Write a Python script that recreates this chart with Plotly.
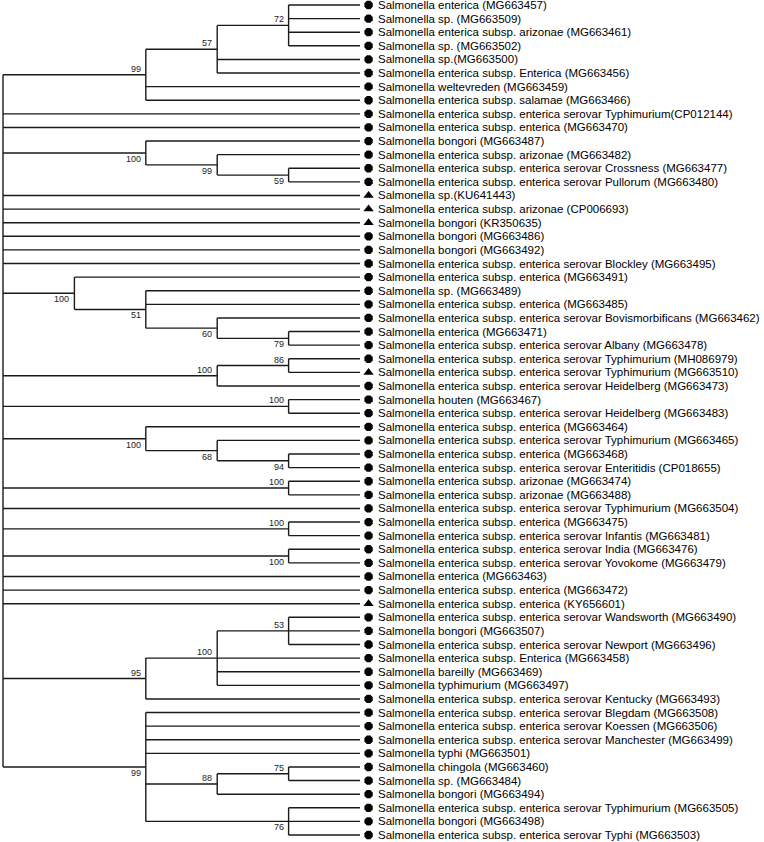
import plotly.graph_objects as go

# leaf names, top to bottom
leaves = [
    "Salmonella enterica (MG663457)",
    "Salmonella sp. (MG663509)",
    "Salmonella enterica subsp. arizonae (MG663461)",
    "Salmonella sp. (MG663502)",
    "Salmonella sp.(MG663500)",
    "Salmonella enterica subsp. Enterica (MG663456)",
    "Salmonella weltevreden (MG663459)",
    "Salmonella enterica subsp. salamae (MG663466)",
    "Salmonella enterica subsp. enterica serovar Typhimurium(CP012144)",
    "Salmonella enterica subsp. enterica (MG663470)",
    "Salmonella bongori (MG663487)",
    "Salmonella enterica subsp. arizonae (MG663482)",
    "Salmonella enterica subsp. enterica serovar Crossness (MG663477)",
    "Salmonella enterica subsp. enterica serovar Pullorum (MG663480)",
    "Salmonella sp.(KU641443)",
    "Salmonella enterica subsp. arizonae (CP006693)",
    "Salmonella bongori (KR350635)",
    "Salmonella bongori (MG663486)",
    "Salmonella bongori (MG663492)",
    "Salmonella enterica subsp. enterica serovar Blockley (MG663495)",
    "Salmonella enterica subsp. enterica (MG663491)",
    "Salmonella sp. (MG663489)",
    "Salmonella enterica subsp. enterica (MG663485)",
    "Salmonella enterica subsp. enterica serovar Bovismorbificans (MG663462)",
    "Salmonella enterica (MG663471)",
    "Salmonella enterica subsp. enterica serovar Albany (MG663478)",
    "Salmonella enterica subsp. enterica serovar Typhimurium (MH086979)",
    "Salmonella enterica subsp. enterica serovar Typhimurium (MG663510)",
    "Salmonella enterica subsp. enterica serovar Heidelberg (MG663473)",
    "Salmonella houten (MG663467)",
    "Salmonella enterica subsp. enterica serovar Heidelberg (MG663483)",
    "Salmonella enterica subsp. enterica (MG663464)",
    "Salmonella enterica subsp. enterica serovar Typhimurium (MG663465)",
    "Salmonella enterica subsp. enterica (MG663468)",
    "Salmonella enterica subsp. enterica serovar Enteritidis (CP018655)",
    "Salmonella enterica subsp. arizonae (MG663474)",
    "Salmonella enterica subsp. arizonae (MG663488)",
    "Salmonella enterica subsp. enterica serovar Typhimurium (MG663504)",
    "Salmonella enterica subsp. enterica (MG663475)",
    "Salmonella enterica subsp. enterica serovar Infantis (MG663481)",
    "Salmonella enterica subsp. enterica serovar India (MG663476)",
    "Salmonella enterica subsp. enterica serovar Yovokome (MG663479)",
    "Salmonella enterica (MG663463)",
    "Salmonella enterica subsp. enterica (MG663472)",
    "Salmonella enterica subsp. enterica (KY656601)",
    "Salmonella enterica subsp. enterica serovar Wandsworth (MG663490)",
    "Salmonella bongori (MG663507)",
    "Salmonella enterica subsp. enterica serovar Newport (MG663496)",
    "Salmonella enterica subsp. Enterica (MG663458)",
    "Salmonella bareilly (MG663469)",
    "Salmonella typhimurium (MG663497)",
    "Salmonella enterica subsp. enterica serovar Kentucky (MG663493)",
    "Salmonella enterica subsp. enterica serovar Blegdam (MG663508)",
    "Salmonella enterica subsp. enterica serovar Koessen (MG663506)",
    "Salmonella enterica subsp. enterica serovar Manchester (MG663499)",
    "Salmonella typhi (MG663501)",
    "Salmonella chingola (MG663460)",
    "Salmonella sp. (MG663484)",
    "Salmonella bongori (MG663494)",
    "Salmonella enterica subsp. enterica serovar Typhimurium (MG663505)",
    "Salmonella bongori (MG663498)",
    "Salmonella enterica subsp. enterica serovar Typhi (MG663503)",
]

# leaves drawn with a triangle instead of a dot
triangle_leaves = [14, 15, 16, 27, 44]

# topology with bootstrap values (leaf numbers refer to the list above)
newick = (
    "((((0,1,2,3)72,4,5)57,6,7)99,8,9,(10,(11,(12,13)59)99)100,"
    "14,15,16,17,18,19,(20,(21,22,(23,(24,25)79)60)51)100,"
    "((26,27)86,28)100,(29,30)100,(31,(32,(33,34)94)68)100,"
    "(35,36)100,37,(38,39)100,(40,41)100,42,43,44,"
    "(((45,46,47)53,48,49,50)100,51)95,"
    "(52,53,54,55,((56,57)75,58)88,(59,60,61)76)99)"
)

# bootstrap label above (+1) or below (-1) the branch, in post-order
label_side = [1, 1, 1, -1, -1, -1, -1, -1, -1, -1, 1, 1, 1, -1, -1, -1,
              1, 1, -1, 1, 1, 1, 1, 1, -1, -1]


def parse(s, i=0):
    if s[i] == "(":
        kids = []
        i += 1
        while True:
            c, i = parse(s, i)
            kids.append(c)
            if s[i] == ",":
                i += 1
                continue
            i += 1
            break
        j = i
        while i < len(s) and s[i] not in ",)":
            i += 1
        return {"children": kids, "support": s[j:i]}, i
    j = i
    while i < len(s) and s[i] not in ",)":
        i += 1
    return {"leaf": int(s[j:i])}, i


root, _ = parse(newick)


def layout(n):
    if "leaf" in n:
        n["h"], n["y"] = 0, n["leaf"]
        return
    for c in n["children"]:
        layout(c)
    n["h"] = 1 + max(c["h"] for c in n["children"])
    n["y"] = (n["children"][0]["y"] + n["children"][-1]["y"]) / 2


layout(root)
depth = root["h"]

lx, ly = [], []
nodes = []


def draw(n):
    if "leaf" in n:
        return
    x = depth - n["h"]
    lx.extend([x, x, None])
    ly.extend([n["children"][0]["y"], n["children"][-1]["y"], None])
    for c in n["children"]:
        cx = depth - c["h"]
        lx.extend([x, cx, None])
        ly.extend([c["y"], c["y"], None])
        draw(c)
    if n["support"]:
        nodes.append((x, n["y"], n["support"]))


draw(root)

fig = go.Figure()
fig.add_trace(go.Scatter(x=lx, y=ly, mode="lines",
                         line=dict(color="#1a1a1a", width=1.4),
                         hoverinfo="skip"))

idx = list(range(len(leaves)))
dots = [i for i in idx if i not in triangle_leaves]
fig.add_trace(go.Scatter(x=[depth + 0.12] * len(dots), y=dots, mode="markers",
                         marker=dict(symbol="octagon", size=9, color="black")))
fig.add_trace(go.Scatter(x=[depth + 0.12] * len(triangle_leaves), y=triangle_leaves,
                         mode="markers",
                         marker=dict(symbol="triangle-up", size=9, color="black")))

for i, name in enumerate(leaves):
    fig.add_annotation(x=depth, y=i, text=name, showarrow=False,
                       xanchor="left", yanchor="middle", xshift=16,
                       font=dict(family="Liberation Sans", size=11.5, color="black"))

for (x, y, s), side in zip(nodes, label_side):
    fig.add_annotation(x=x, y=y, text=s, showarrow=False,
                       xanchor="right", yanchor="middle",
                       xshift=-3, yshift=6 * side,
                       font=dict(family="Liberation Sans", size=9, color="#222"))

step = 71.4
spacing = 830 / 61
fig.update_layout(
    width=764, height=842,
    margin=dict(l=0, r=0, t=0, b=0),
    paper_bgcolor="white", plot_bgcolor="white",
    showlegend=False,
    xaxis=dict(range=[-3 / step, 761 / step], visible=False),
    yaxis=dict(range=[61 + 7 / spacing, -5 / spacing], visible=False),
)

# page has a default 8px body margin; drop it so the figure fills the window
fig.write_html("out.html", config={"displayModeBar": False},
               post_script="document.body.style.margin='0';")
